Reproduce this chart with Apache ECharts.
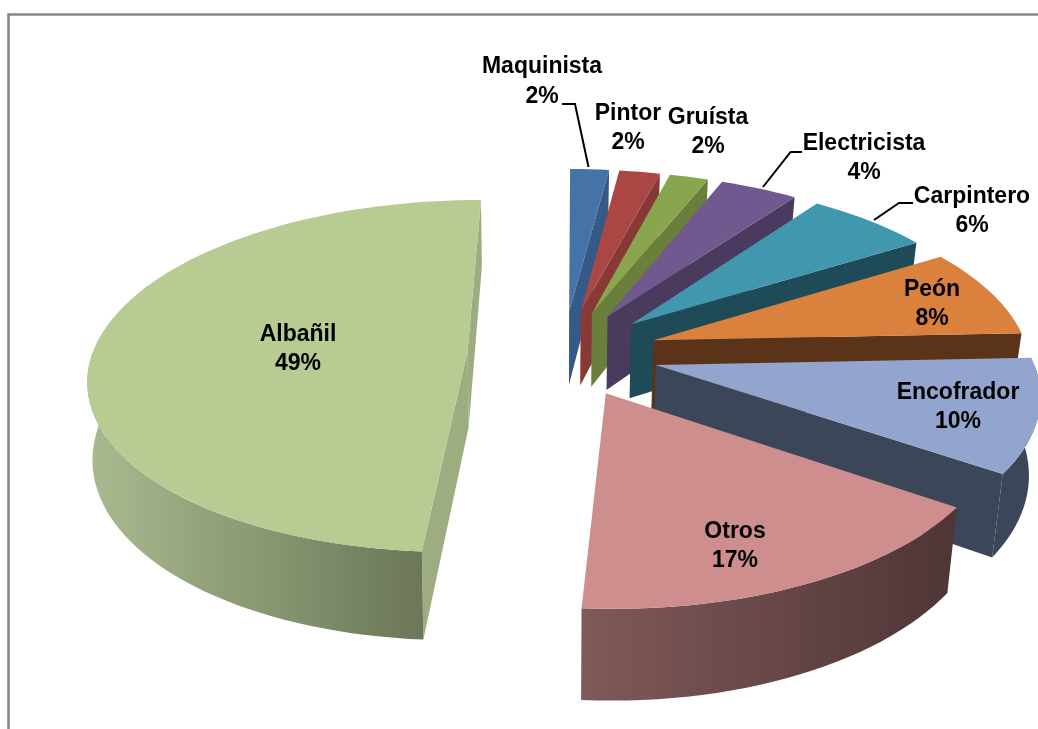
<!DOCTYPE html>
<html><head><meta charset="utf-8">
<style>html,body{margin:0;padding:0;background:#fff;overflow:hidden}#c{width:1038px;height:729px}</style>
<script src="https://cdn.jsdelivr.net/npm/echarts@6/dist/echarts.min.js"></script>
</head><body><div id="c"></div>
<script>
const categories = ['Maquinista','Pintor','Gruísta','Electricista','Carpintero','Peón','Encofrador','Otros','Albañil'];
const values = [1.95,2.05,1.95,3.9,6.2,8.2,10.3,16.5,49.0];
const percentLabels = ['2%','2%','2%','4%','6%','8%','10%','17%','49%'];
const topColors = ['#4572A7','#AA4643','#89A54E','#71588F','#4097AE','#D9813D','#92A5CE','#CE8E8E','#B7CB93'];
const cutColors = ['#355A87','#883835','#6A7F3B','#4A3A5E','#1F4A57','#5A3318','#3B4658','#6B4A4A','#9DAD80'];
const rimLeft = ['#355A87','#883835','#6A7F3B','#4A3A5E','#1F4A57','#5A3318','#3B4658','#80595A','#AABA90'];
const rimRight = ['#355A87','#883835','#6A7F3B','#4A3A5E','#1F4A57','#5A3318','#3B4658','#4F3536','#6B7757'];
const labelCenters = [[542,81.5],[628,128],[708,132],[864,158],[972,211],[932,304],[958,407],[735,546],[298,349]];
const leaders = [[[562,104],[575,104],[588.5,167]],[[802,152],[790.6,152],[763,187]],[[913,203],[899,203],[874,220]]];

const view = {cx:563, cy:353, rx:375, ry:173, persp:0.14, depth:76, shrinkRight:0.024, shrinkLeft:0.011, explodeX:0.255, explodeY:0.25, start:0.3};
const total = values.reduce((a,b)=>a+b,0);
const rad = d=>d*Math.PI/180;
function proj(X,Y,z){
  const s = 1/(1+view.persp*Y);
  const shrink = X>0 ? view.shrinkRight : view.shrinkLeft;
  return [view.cx+view.rx*X*s*(1-shrink*z), view.cy-view.ry*Y*s+z*view.depth*s];
}
function sliceShapes(i){
  let a1 = view.start;
  for(let k=0;k<i;k++) a1 += values[k]/total*360;
  const a2 = a1+values[i]/total*360, mid=(a1+a2)/2;
  const ox = view.explodeX*Math.sin(rad(mid)), oy = view.explodeY*Math.cos(rad(mid));
  const rim = (a,z)=>proj(ox+Math.sin(rad(a)),oy+Math.cos(rad(a)),z);
  const tip = z=>proj(ox,oy,z);
  const arc = (from,to,z)=>{const n=Math.max(2,Math.ceil(Math.abs(to-from)/2));const r=[];for(let j=0;j<=n;j++)r.push(rim(from+(to-from)*j/n,z));return r;};
  const out=[];
  const poly=(pts,fill)=>out.push({type:'polygon',shape:{points:pts},style:{fill:fill,stroke:null}});
  const visible=(a,sign)=>{
    const t=tip(0), r=rim(a,0);
    return ((r[0]-t[0])*sign) > 0;
  };
  if(visible(a1,-1)) poly([tip(0),rim(a1,0),rim(a1,1),tip(1)],cutColors[i]);
  if(visible(a2,1)) poly([tip(0),rim(a2,0),rim(a2,1),tip(1)],cutColors[i]);
  const fa=Math.max(a1,90), fb=Math.min(a2,270);
  if(fb>fa){
    poly(arc(fa,fb,0).concat(arc(fb,fa,1)),{type:'linear',x:0,y:0,x2:1,y2:0,colorStops:[{offset:0,color:rimLeft[i]},{offset:1,color:rimRight[i]}]});
  }
  poly([tip(0)].concat(arc(a1,a2,0)),topColors[i]);
  return out;
}
const chart = echarts.init(document.getElementById('c'),null,{renderer:'canvas'});
chart.setOption({
  animation:false,
  backgroundColor:'#fff',
  graphic:[{type:'polyline',shape:{points:[[8.5,729],[8.5,14.5],[1038,14.5]]},style:{stroke:'#868686',lineWidth:2.5,fill:null},silent:true}],
  series:[{
    type:'custom',coordinateSystem:'none',
    data:categories.map((c,i)=>({name:c,value:values[i]})),
    renderItem:function(params){
      return {type:'group',children:sliceShapes(params.dataIndex)};
    }
  },{
    type:'custom',coordinateSystem:'none',z:5,
    data:categories.map((c,i)=>({name:c,value:values[i]})),
    renderItem:function(params){
      const i=params.dataIndex, p=labelCenters[i];
      return {type:'text',x:p[0],y:p[1],style:{text:categories[i]+'\n'+percentLabels[i],fill:'#000',font:'bold 23px "Liberation Sans"',lineHeight:29.5,align:'center',verticalAlign:'middle'}};
    }
  },{
    type:'custom',coordinateSystem:'none',z:4,
    data:leaders.map((l,i)=>({value:i})),
    renderItem:function(params){
      return {type:'polyline',shape:{points:leaders[params.dataIndex]},style:{stroke:'#000',lineWidth:2,fill:null}};
    }
  }]
});
</script></body></html>
